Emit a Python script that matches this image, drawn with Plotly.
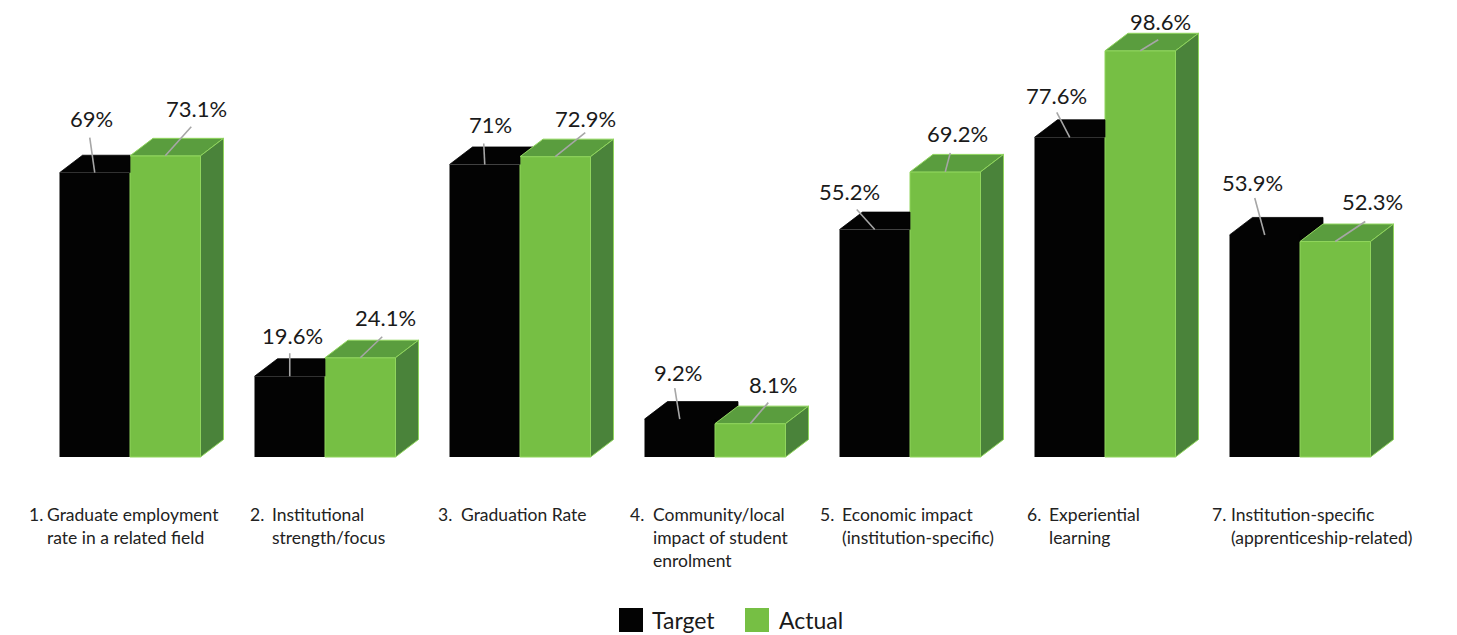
import plotly.graph_objects as go

# ---------------- data ----------------
numbers = ["1.", "2.", "3.", "4.", "5.", "6.", "7."]
categories = [
    "Graduate employment<br>rate in a related field",
    "Institutional<br>strength/focus",
    "Graduation Rate",
    "Community/local<br>impact of student<br>enrolment",
    "Economic impact<br>(institution-specific)",
    "Experiential<br>learning",
    "Institution-specific<br>(apprenticeship-related)",
]
target = [69, 19.6, 71, 9.2, 55.2, 77.6, 53.9]
actual = [73.1, 24.1, 72.9, 8.1, 69.2, 98.6, 52.3]
target_labels = ["69%", "19.6%", "71%", "9.2%", "55.2%", "77.6%", "53.9%"]
actual_labels = ["73.1%", "24.1%", "72.9%", "8.1%", "69.2%", "98.6%", "52.3%"]

# ---------------- layout constants (pixels) ----------------
FIG_W, FIG_H = 1457, 635
PX_PER_X = 195.0      # spacing between groups
PX_PER_Y = 4.12       # pixels per percent
BASE_PX = 457         # baseline pixel row
C0_PX = 130           # pixel column of first group centre
W_PX, DX_PX, DY_PX = 70.5, 23.0, 17.5

# value-label placements relative to top-centre of front face (px)
black_label_off = [(-3, -54), (3, -41), (6, -40), (-2, -47), (-25, -38), (-13, -42), (-12, -52)]
black_line_off = [(-5, -35), (0, -23), (-1, -21), (-5, -31), (-18, -20), (-13, -25), (-10, -37)]
green_label_off = [(31, -47), (25, -40), (30, -38), (23, -39), (12, -38), (20, -29), (37, -40)]
green_line_off = [(26, -29), (22, -21), (30, -24), (18, -21), (5, -19), (18, -11), (30, -20)]

# category label placements (px)
num_x_px = [27, 248, 436, 628, 818, 1025, 1210]
txt_x_px = [45, 270, 459, 651, 840, 1047, 1229]
label_top_px = 502

BLACK = "#030303"
G_FRONT = "#76bf44"
G_TOP = "#5a9d3e"
G_SIDE = "#4a833a"
G_EDGE = "#90d55d"
LINE_GRAY = "#a6a6a6"
FONT = "Lato"

W = W_PX / PX_PER_X
DX = DX_PX / PX_PER_X
DY = DY_PX / PX_PER_Y


def xu(px):
    return px / PX_PER_X


def yu(px):
    return px / PX_PER_Y


xs = list(range(len(target)))

fig = go.Figure()

# front faces (real bars)
fig.add_trace(go.Bar(x=xs, y=target, width=W, offset=-W, name="Target",
                     marker=dict(color=BLACK, line=dict(width=0)), showlegend=False,
                     hoverinfo="skip"))
fig.add_trace(go.Bar(x=xs, y=actual, width=W, offset=0, name="Actual",
                     marker=dict(color=G_FRONT, line=dict(color=G_EDGE, width=1)),
                     showlegend=False, hoverinfo="skip"))

# visible top/side part of black bars
bx, by = [], []
for c, v, g in zip(xs, target, actual):
    xi = c + DX * (v + DY - g) / DY
    xc = min(max(xi, c), c + DX)
    pts = [(c - W, v), (c - W + DX, v + DY), (xc, v + DY),
           (xc, min(g + DY * (xc - c) / DX, v + DY)), (c, min(g, v + DY)), (c, v)]
    for px_, py_ in pts:
        bx.append(px_)
        by.append(py_)
    bx.append(None)
    by.append(None)
fig.add_trace(go.Scatter(x=bx, y=by, mode="lines", fill="toself", fillcolor=BLACK,
                         line=dict(color=BLACK, width=0.8), showlegend=False, hoverinfo="skip"))

# green top and side faces
tx, ty = [], []
sx, sy = [], []
for c, g in zip(xs, actual):
    for px_, py_ in [(c, g), (c + DX, g + DY), (c + W + DX, g + DY), (c + W, g), (c, g)]:
        tx.append(px_)
        ty.append(py_)
    tx.append(None)
    ty.append(None)
    for px_, py_ in [(c + W, 0), (c + W, g), (c + W + DX, g + DY), (c + W + DX, DY), (c + W, 0)]:
        sx.append(px_)
        sy.append(py_)
    sx.append(None)
    sy.append(None)
fig.add_trace(go.Scatter(x=tx, y=ty, mode="lines", fill="toself", fillcolor=G_TOP,
                         line=dict(color=G_EDGE, width=1), showlegend=False, hoverinfo="skip"))
fig.add_trace(go.Scatter(x=sx, y=sy, mode="lines", fill="toself", fillcolor=G_SIDE,
                         line=dict(color=G_EDGE, width=1), showlegend=False, hoverinfo="skip"))

# leader lines + value labels
lx, ly = [], []
annotations = []
for i, (c, v, g) in enumerate(zip(xs, target, actual)):
    bfc = c - W / 2
    gfc = c + W / 2
    ox, oy = black_line_off[i]
    lx += [bfc + xu(ox), bfc, None]
    ly += [v - yu(oy), v, None]
    ox, oy = green_line_off[i]
    lx += [gfc + xu(ox), gfc, None]
    ly += [g - yu(oy), g, None]
    ox, oy = black_label_off[i]
    annotations.append(dict(x=bfc + xu(ox), y=v - yu(oy), text=target_labels[i],
                            showarrow=False, xanchor="center", yanchor="middle",
                            font=dict(family=FONT, size=22, color="#1a1a1a")))
    ox, oy = green_label_off[i]
    annotations.append(dict(x=gfc + xu(ox), y=g - yu(oy), text=actual_labels[i],
                            showarrow=False, xanchor="center", yanchor="middle",
                            font=dict(family=FONT, size=22, color="#1a1a1a")))
fig.add_trace(go.Scatter(x=lx, y=ly, mode="lines", line=dict(color=LINE_GRAY, width=1.6),
                         showlegend=False, hoverinfo="skip"))

# category labels
for i in range(len(categories)):
    annotations.append(dict(x=xu(num_x_px[i] - C0_PX), y=yu(BASE_PX - label_top_px),
                            text=numbers[i], showarrow=False, xanchor="left", yanchor="top",
                            align="left", font=dict(family=FONT, size=17.5, color="#222222")))
    annotations.append(dict(x=xu(txt_x_px[i] - C0_PX), y=yu(BASE_PX - label_top_px),
                            text=categories[i], showarrow=False, xanchor="left", yanchor="top",
                            align="left", font=dict(family=FONT, size=17.5, color="#222222")))

# legend (manual)
shapes = []
legend_items = [("Target", BLACK, 619, 650), ("Actual", G_FRONT, 745, 777)]
for name, col, sq_x, tx_x in legend_items:
    shapes.append(dict(type="rect", xref="paper", yref="paper",
                       x0=sq_x / FIG_W, x1=(sq_x + 24) / FIG_W,
                       y0=1 - 632 / FIG_H, y1=1 - 608 / FIG_H,
                       fillcolor=col, line=dict(width=0)))
    annotations.append(dict(xref="paper", yref="paper", x=tx_x / FIG_W, y=1 - 620 / FIG_H,
                            text=name, showarrow=False, xanchor="left", yanchor="middle",
                            font=dict(family=FONT, size=23, color="#1a1a1a")))

fig.update_layout(
    width=FIG_W, height=FIG_H, autosize=False,
    margin=dict(l=0, r=0, t=0, b=0),
    paper_bgcolor="white", plot_bgcolor="white",
    barmode="overlay",
    xaxis=dict(range=[xu(-C0_PX), xu(FIG_W - C0_PX)], visible=False, fixedrange=True),
    yaxis=dict(range=[yu(BASE_PX - FIG_H), yu(BASE_PX)], visible=False, fixedrange=True),
    annotations=annotations,
    shapes=shapes,
    showlegend=False,
)

fig.write_html("out.html", config={"displayModeBar": False},
               post_script="document.body.style.margin='0';document.body.style.overflow='hidden';")
